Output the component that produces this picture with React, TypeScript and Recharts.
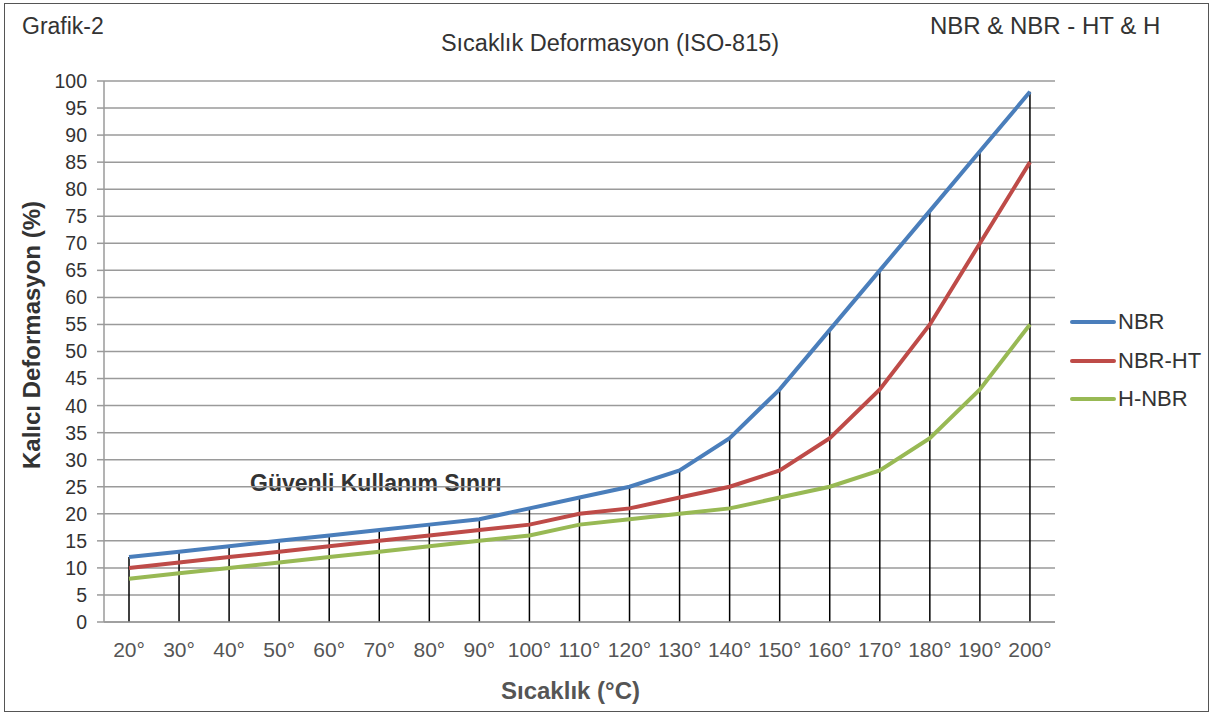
import React from 'react';
import { ComposedChart, Line, Bar, XAxis, YAxis, CartesianGrid } from 'recharts';

const temps = ['20°', '30°', '40°', '50°', '60°', '70°', '80°', '90°', '100°', '110°', '120°', '130°', '140°', '150°', '160°', '170°', '180°', '190°', '200°'];
const nbr = [12, 13, 14, 15, 16, 17, 18, 19, 21, 23, 25, 28, 34, 43, 54, 65, 76, 87, 98];
const nbrHt = [10, 11, 12, 13, 14, 15, 16, 17, 18, 20, 21, 23, 25, 28, 34, 43, 55, 70, 85];
const hNbr = [8, 9, 10, 11, 12, 13, 14, 15, 16, 18, 19, 20, 21, 23, 25, 28, 34, 43, 55];
const yTicks = [0, 5, 10, 15, 20, 25, 30, 35, 40, 45, 50, 55, 60, 65, 70, 75, 80, 85, 90, 95, 100];

const data = temps.map((t, i) => ({ name: t, nbr: nbr[i], nbrHt: nbrHt[i], hNbr: hNbr[i] }));

const series = [
  { key: 'nbr', name: 'NBR', color: '#4A7EBB' },
  { key: 'nbrHt', name: 'NBR-HT', color: '#BE4B48' },
  { key: 'hNbr', name: 'H-NBR', color: '#98B954' },
];

const font = '"Liberation Sans", Arial, sans-serif';

// vertical drop line from the top of the highest series down to the axis
const DropLine = (props: any) => {
  const { x, y, width, height } = props;
  const cx = x + width / 2;
  return <line x1={cx} x2={cx} y1={y} y2={y + height} stroke="#000" strokeWidth={1.5} />;
};

const LegendBox = () => (
  <div style={{ position: 'absolute', left: 1070, top: 303, fontSize: 22, color: '#333', lineHeight: '38.5px' }}>
    {series.map((s) => (
      <div key={s.key} style={{ display: 'flex', alignItems: 'center', height: 38.5 }}>
        <div style={{ width: 46, height: 4, background: s.color, borderRadius: 2, marginRight: 2 }} />
        <span>{s.name}</span>
      </div>
    ))}
  </div>
);

export default function App() {
  return (
    <div style={{ position: 'absolute', left: 0, top: 0, width: 1216, height: 715, background: '#fff', fontFamily: font, lineHeight: 'normal' }}>
      <div style={{ position: 'absolute', left: 4, top: 3, width: 1203, height: 707, border: '1.5px solid #555' }} />
      <div style={{ position: 'absolute', left: 22, top: 13, fontSize: 23, color: '#333' }}>Grafik-2</div>
      <div style={{ position: 'absolute', left: 930, top: 12, fontSize: 24, color: '#333' }}>NBR &amp; NBR - HT &amp; H</div>
      <div style={{ position: 'absolute', left: 0, width: 1220, top: 30, textAlign: 'center', fontSize: 23.5, color: '#333' }}>
        Sıcaklık Deformasyon (ISO-815)
      </div>
      <div style={{ position: 'absolute', left: 250, top: 470, fontSize: 23, fontWeight: 'bold', color: '#333' }}>
        Güvenli Kullanım Sınırı
      </div>
      <div style={{ position: 'absolute', left: 0, width: 1141, top: 677, textAlign: 'center', fontSize: 24, fontWeight: 'bold', color: '#555' }}>
        Sıcaklık (°C)
      </div>
      <div
        style={{
          position: 'absolute', left: 32, top: 335, transform: 'translate(-50%, -50%) rotate(-90deg)',
          whiteSpace: 'nowrap', fontSize: 24, fontWeight: 'bold', color: '#333',
        }}
      >
        Kalıcı Deformasyon (%)
      </div>
      <div style={{ position: 'absolute', left: 0, top: 0 }}>
        <ComposedChart width={1216} height={715} data={data} margin={{ top: 81, right: 161, bottom: 0, left: 0 }} barCategoryGap={0}>
          <CartesianGrid vertical={false} stroke="#9a9a9a" strokeWidth={1.5} />
          <XAxis
            dataKey="name"
            height={93}
            axisLine={{ stroke: '#9a9a9a', strokeWidth: 1.5 }}
            tickLine={false}
            tickSize={0}
            tickMargin={20}
            interval={0}
            tick={{ fill: '#555', fontSize: 21, fontFamily: font }}
          />
          <YAxis
            width={104}
            domain={[0, 100]}
            ticks={yTicks}
            interval={0}
            axisLine={{ stroke: '#9a9a9a', strokeWidth: 1.5 }}
            tickLine={{ stroke: '#9a9a9a', strokeWidth: 1.5 }}
            tickSize={7}
            tickMargin={10}
            tick={{ fill: '#333', fontSize: 19.5, fontFamily: font }}
          />
          <Bar dataKey="nbr" shape={<DropLine />} isAnimationActive={false} legendType="none" />
          {series.map((s) => (
            <Line
              key={s.key}
              type="linear"
              dataKey={s.key}
              name={s.name}
              stroke={s.color}
              strokeWidth={4}
              dot={false}
              activeDot={false}
              isAnimationActive={false}
            />
          ))}
        </ComposedChart>
      </div>
      <LegendBox />
    </div>
  );
}
